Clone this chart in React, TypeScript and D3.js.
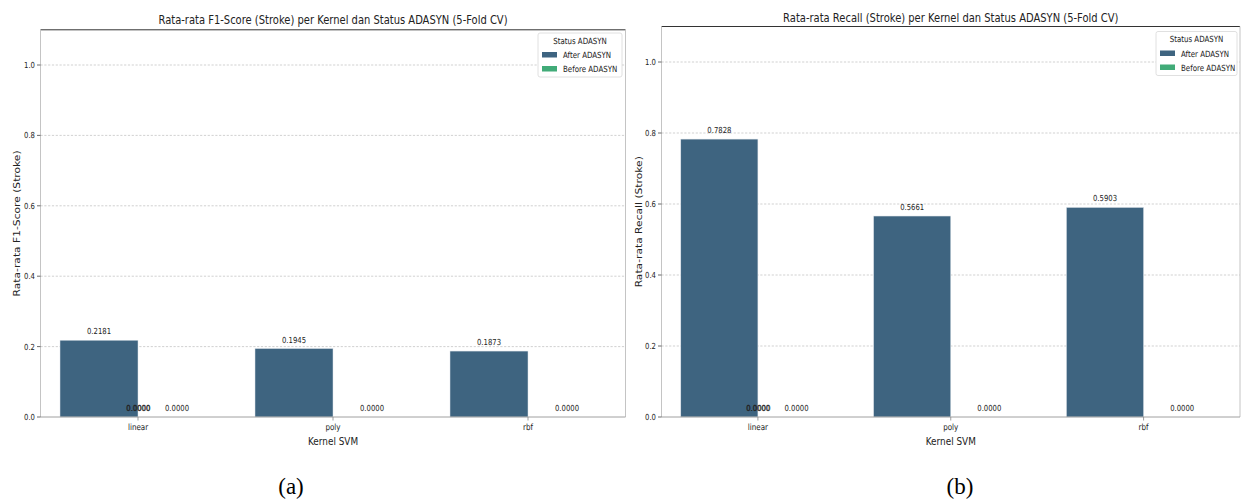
import React from "react";
import * as d3 from "d3";

const kernels = ["linear", "poly", "rbf"];
const hues = ["After ADASYN", "Before ADASYN"];
const f1After = [0.2181, 0.1945, 0.1873];
const f1Before = [0.0, 0.0, 0.0];
const recallAfter = [0.7828, 0.5661, 0.5903];
const recallBefore = [0.0, 0.0, 0.0];
// stray duplicate labels drawn by the original at the first kernel's centre
const strayLabels = [{ kernel: "linear", value: 0.0 }, { kernel: "linear", value: 0.0 }];
const yTicks = [0.0, 0.2, 0.4, 0.6, 0.8, 1.0];

const COLORS: Record<string, string> = { "After ADASYN": "#3e6480", "Before ADASYN": "#41ab78" };
const SX = 0.83;
const FONT = "DejaVu Sans, sans-serif";

function T(props: { x: number; y: number; size: number; anchor?: string; rotate?: boolean; children: any; fill?: string; weight?: string }) {
  const { x, y, size, anchor = "middle", rotate, children, fill = "#222" } = props;
  return (
    <text
      transform={`translate(${x},${y}) scale(${SX},1)${rotate ? " rotate(-90)" : ""}`}
      fontFamily={FONT}
      fontSize={size}
      textAnchor={anchor}
      fill={fill}
    >
      {children}
    </text>
  );
}

type PanelProps = {
  left: number; right: number; top: number; bottom: number;
  title: string; titleY: number; ylabel: string; ylabelX: number;
  after: number[]; before: number[];
  legend: { x: number; y: number; w: number };
  caption: string; captionX: number;
};

function Panel(p: PanelProps) {
  const x = d3.scaleBand<string>().domain(kernels).range([p.left, p.right]).paddingInner(0).paddingOuter(0);
  const bw = x.bandwidth();
  const hx = d3.scaleBand<string>().domain(hues).range([0.1 * bw, 0.9 * bw]).padding(0);
  const y = d3.scaleLinear().domain([0, 1.1]).range([p.bottom, p.top]);
  const series: Record<string, number[]> = { "After ADASYN": p.after, "Before ADASYN": p.before };
  const cx = (p.left + p.right) / 2;
  const cy = (p.top + p.bottom) / 2;
  return (
    <g>
      {/* grid */}
      {yTicks.filter((t) => t > 0).map((t) => (
        <line key={"g" + t} x1={p.left} x2={p.right} y1={y(t)} y2={y(t)} stroke="#bdbdbd" strokeWidth={0.7} strokeDasharray="2.2,1.6" />
      ))}
      {/* bars */}
      {hues.map((h) =>
        kernels.map((k, i) => {
          const v = series[h][i];
          const bx = (x(k) as number) + (hx(h) as number);
          const hb = hx.bandwidth();
          return (
            <g key={h + k}>
              {v > 0 && (
                <rect x={bx} y={y(v)} width={hb} height={y(0) - y(v)} fill={COLORS[h]} stroke="#dde4e9" strokeWidth={0.5} />
              )}
              <T x={bx + hb / 2} y={y(v) - 6} size={8.3}>{v.toFixed(4)}</T>
            </g>
          );
        })
      )}
      {strayLabels.map((s, i) => (
        <T key={"s" + i} x={(x(s.kernel) as number) + bw / 2 + i * 0.6} y={y(s.value) - 6} size={8.3}>{s.value.toFixed(4)}</T>
      ))}
      {/* spines */}
      <line x1={p.left} x2={p.right} y1={p.top} y2={p.top} stroke="#333" strokeWidth={1} />
      <line x1={p.left} x2={p.left} y1={p.top} y2={p.bottom} stroke="#c4c4c4" strokeWidth={1} />
      <line x1={p.right} x2={p.right} y1={p.top} y2={p.bottom} stroke="#c4c4c4" strokeWidth={1} />
      <line x1={p.left} x2={p.right} y1={p.bottom} y2={p.bottom} stroke="#a0a0a0" strokeWidth={1} />
      {/* y ticks */}
      {yTicks.map((t) => (
        <g key={"y" + t}>
          <line x1={p.left - 3.5} x2={p.left} y1={y(t)} y2={y(t)} stroke="#444" strokeWidth={0.8} />
          <T x={p.left - 5.5} y={y(t) + 3} size={8.3} anchor="end">{t.toFixed(1)}</T>
        </g>
      ))}
      {/* x ticks */}
      {kernels.map((k) => {
        const xc = (x(k) as number) + bw / 2;
        return (
          <g key={"x" + k}>
            <line x1={xc} x2={xc} y1={p.bottom} y2={p.bottom + 3.5} stroke="#888" strokeWidth={0.8} />
            <T x={xc} y={p.bottom + 13} size={8.6}>{k}</T>
          </g>
        );
      })}
      {/* labels */}
      <T x={cx} y={p.titleY} size={12}>{p.title}</T>
      <T x={cx} y={445} size={10.7}>Kernel SVM</T>
      <T x={p.ylabelX} y={cy} size={10.7} rotate>{p.ylabel}</T>
      {/* legend */}
      <g>
        <rect x={p.legend.x} y={p.legend.y} width={p.legend.w} height={44} rx={2} fill="#fff" stroke="#d8d8d8" strokeWidth={0.8} />
        <T x={p.legend.x + p.legend.w / 2} y={p.legend.y + 10.5} size={8.5}>Status ADASYN</T>
        {hues.map((h, i) => (
          <g key={"l" + h}>
            <rect x={p.legend.x + 4} y={p.legend.y + 19 + i * 14} width={15} height={5.5} fill={COLORS[h]} />
            <T x={p.legend.x + 25} y={p.legend.y + 25 + i * 14} size={8.5} anchor="start">{h}</T>
          </g>
        ))}
      </g>
      <text x={p.captionX} y={494} fontFamily="Liberation Serif, serif" fontSize={23} textAnchor="middle" fill="#000">{p.caption}</text>
    </g>
  );
}

export default function App() {
  return (
    <svg width={1241} height={499} style={{ position: "absolute", left: 0, top: 0, display: "block", background: "#fff" }}>
      <rect width={1241} height={499} fill="#fff" />
      <Panel
        left={40.5} right={625.5} top={29.8} bottom={417}
        title="Rata-rata F1-Score (Stroke) per Kernel dan Status ADASYN (5-Fold CV)" titleY={24}
        ylabel="Rata-rata F1-Score (Stroke)" ylabelX={19.5}
        after={f1After} before={f1Before}
        legend={{ x: 538, y: 33, w: 84 }}
        caption="(a)" captionX={291}
      />
      <Panel
        left={661.5} right={1240} top={26.5} bottom={417}
        title="Rata-rata Recall (Stroke) per Kernel dan Status ADASYN (5-Fold CV)" titleY={21.5}
        ylabel="Rata-rata Recall (Stroke)" ylabelX={641.5}
        after={recallAfter} before={recallBefore}
        legend={{ x: 1156, y: 31.5, w: 81 }}
        caption="(b)" captionX={960}
      />
    </svg>
  );
}
